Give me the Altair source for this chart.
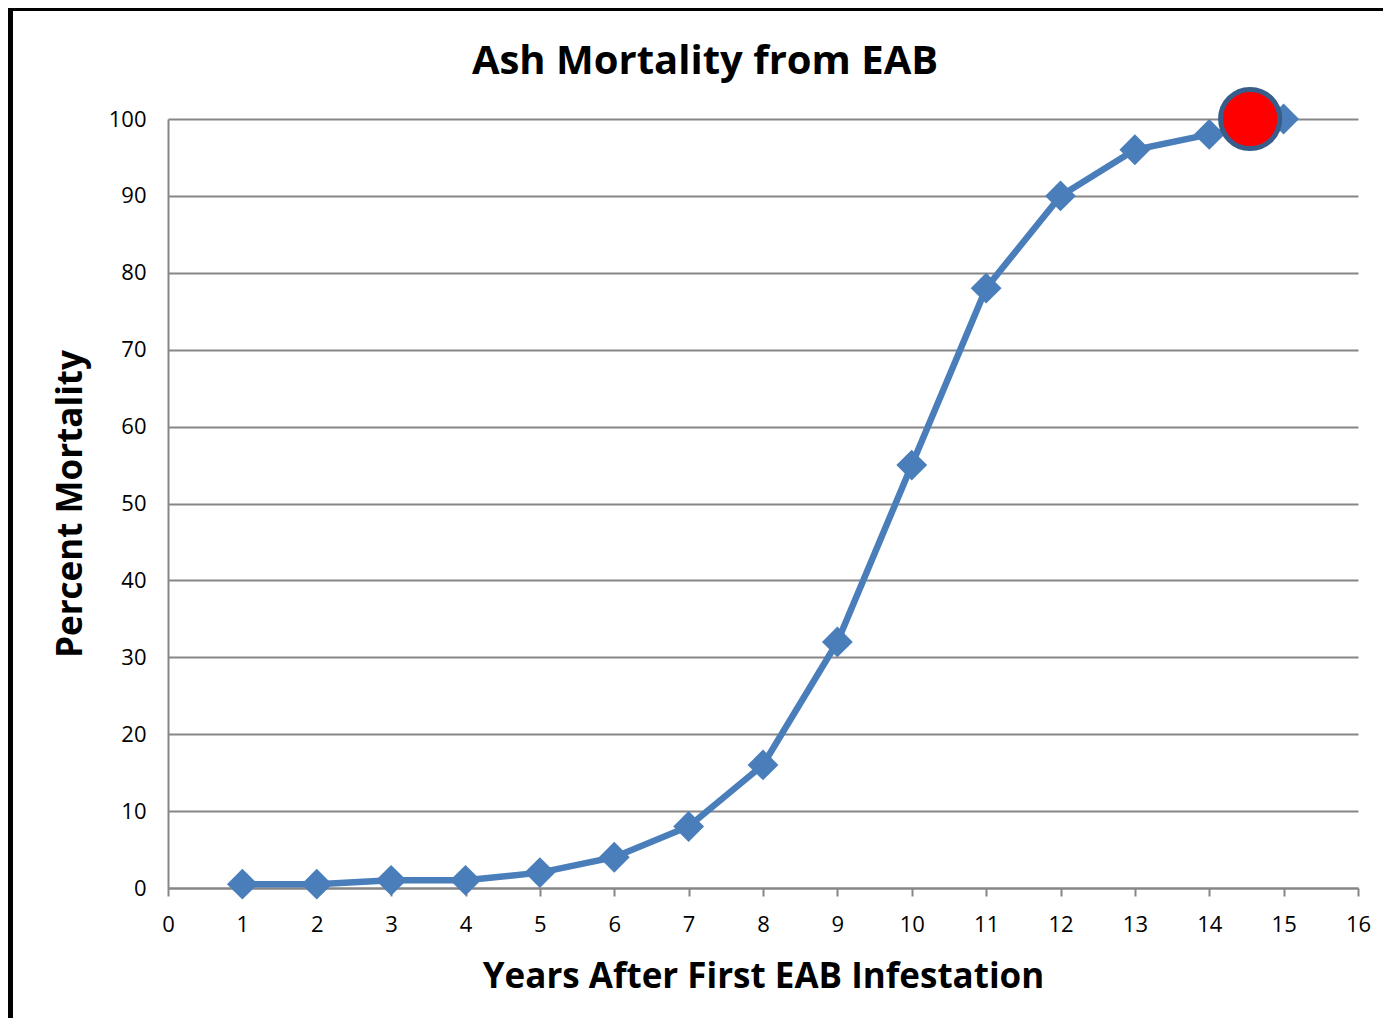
import altair as alt
import pandas as pd

years = list(range(1, 16))
mortality = [0.5, 0.5, 1, 1, 2, 4, 8, 16, 32, 55, 78, 90, 96, 98, 100]
marker_x = [14.55]
marker_y = [100]
title_text = ["Ash Mortality from EAB"]

FONT = "Open Sans"
df = pd.DataFrame({"Year": years, "Mortality": mortality})
mk = pd.DataFrame({"Year": marker_x, "Mortality": marker_y})
frame_df = pd.DataFrame({"a": [0]})
title_df = pd.DataFrame({"t": title_text})

W, H = 1190, 769

xs = alt.Scale(domain=[0, 16], nice=False, zero=False)
ys = alt.Scale(domain=[0, 100], nice=False)

xax = alt.Axis(values=list(range(0, 17)), title="Years After First EAB Infestation",
               format="d", labelFlush=False, labelOverlap=False,
               grid=False, tickSize=8, tickColor="#868686", tickWidth=2,
               domainColor="#868686", domainWidth=2, labelFontSize=22, labelFont=FONT,
               labelColor="black", labelPadding=18, titleFontSize=35, titleFont=FONT,
               titleFontWeight="bold", titleColor="black", titlePadding=24)
yax = alt.Axis(values=list(range(0, 101, 10)), title="Percent Mortality",
               labelFlush=False, labelOverlap=False,
               grid=True, gridColor="#868686", gridWidth=2, ticks=False,
               domainColor="#868686", domainWidth=2, labelFontSize=22, labelFont=FONT,
               labelColor="black", labelPadding=22, titleFontSize=35, titleFont=FONT,
               titleFontWeight="bold", titleColor="black", titlePadding=20)

base = alt.Chart(df).encode(
    x=alt.X("Year:Q", scale=xs, axis=xax),
    y=alt.Y("Mortality:Q", scale=ys, axis=yax),
)
line = base.mark_line(color="#4a7ebb", strokeWidth=6.5)
pts = base.mark_point(shape="diamond", size=950, filled=True, color="#4a7ebb", opacity=1)

red = alt.Chart(mk).mark_point(shape="circle", size=3500, filled=True, fill="#ff0000",
                               stroke="#385d8a", strokeWidth=5, opacity=1).encode(
    x=alt.X("Year:Q", scale=xs), y=alt.Y("Mortality:Q", scale=ys))

frame = alt.Chart(frame_df).mark_rect(fill=None, stroke="black", strokeWidth=6).encode(
    x=alt.value(-158), x2=alt.value(1300), y=alt.value(-111), y2=alt.value(1000))

title = alt.Chart(title_df).mark_text(fontSize=40, font=FONT, fontWeight="bold",
                                      color="black", align="center", baseline="alphabetic").encode(
    text="t:N", x=alt.value(537), y=alt.value(-45))

chart = alt.layer(frame, line, pts, red, title).properties(
    width=W, height=H,
    autosize=alt.AutoSizeParams(type="none"),
    padding={"left": 160, "top": 111, "right": 25, "bottom": 130},
).configure_view(stroke=None)

chart.save("out.html", embed_options={"renderer": "svg", "actions": False})
